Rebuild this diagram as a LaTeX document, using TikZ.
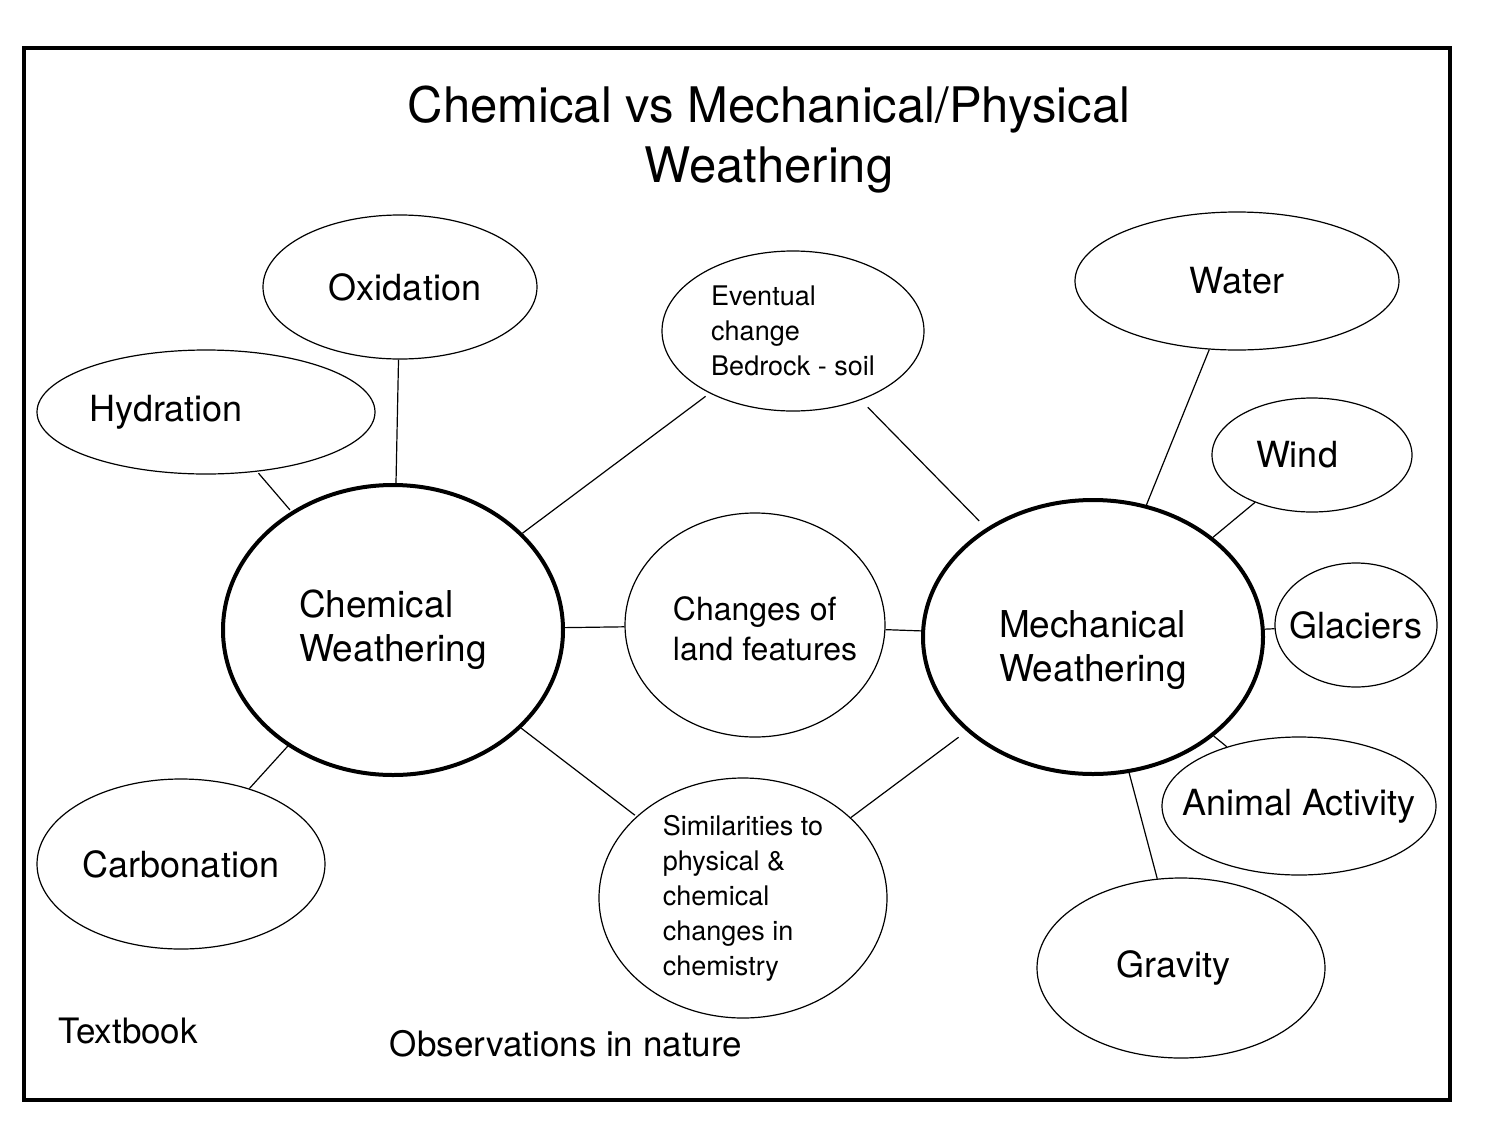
\documentclass[tikz,border=0pt]{standalone}
\usepackage{fontspec}
\setmainfont{TeX Gyre Heros}
\usetikzlibrary{shapes.geometric}
\tikzset{
  bubble/.style={draw, ellipse, inner sep=0pt, line width=1.2pt, align=left, font=\fontsize{36}{42}\selectfont},
  small/.style={font=\fontsize{27}{35}\selectfont},
  main/.style={bubble, line width=4pt, font=\fontsize{37}{44}\selectfont},
  link/.style={line width=1.2pt},
  note/.style={font=\fontsize{35}{40}\selectfont},
  sz/.style 2 args={minimum width=#1pt, minimum height=#2pt}
}
\newcommand{\lowtext}[2]{\raisebox{-#1pt}[0pt][0pt]{\makebox[0pt]{\begin{tabular}{@{}l@{}}#2\end{tabular}}}}
\begin{document}
\begin{tikzpicture}[x=1pt,y=-1pt]
  \useasboundingbox (0,0) rectangle (1500,1125);
  \draw[line width=4pt] (24,48) rectangle (1450,1100);
  \node[font=\fontsize{49}{60}\selectfont, align=center] (title) at (769,140)
    {Chemical vs Mechanical/Physical\\Weathering};

  % chemical side
  \node[main, sz={340}{290}] (chem) at (393,630) {Chemical\\Weathering};
  \node[bubble, sz={274}{144}] (oxid) at (400,287) {\hspace*{10pt}Oxidation};
  \node[bubble, sz={338}{124}] (hydr) at (206,412) {\hspace*{-80pt}Hydration};
  \node[bubble, sz={288}{170}] (carb) at (181,864) {Carbonation};

  % middle
  \node[bubble, small, sz={262}{160}] (event) at (793,331) {Eventual\\change\\Bedrock - soil};
  \node[bubble, sz={260}{224}, font=\fontsize{32}{40}\selectfont] (land) at (755,625)
    {\hspace*{20pt}\lowtext{14}{Changes of\\land features}};
  \node[bubble, small, sz={288}{240}] (simil) at (743,898) {Similarities to\\physical \&\\chemical\\changes in\\chemistry};

  % mechanical side
  \node[main, sz={340}{274}] (mech) at (1093,637) {\lowtext{20}{Mechanical\\Weathering}};
  \node[bubble, sz={324}{138}] (water) at (1237,281) {Water};
  \node[bubble, sz={200}{114}] (wind) at (1312,455) {\hspace*{-30pt}Wind};
  \node[bubble, sz={162}{124}] (glac) at (1356,625) {\makebox[0pt]{Glaciers}};
  \node[bubble, sz={274}{138}] (anim) at (1299,806) {\makebox[0pt]{Animal Activity}};
  \node[bubble, sz={288}{180}] (grav) at (1181,968) {\hspace*{-15pt}Gravity};

  \node[note] (book) at (128,1031) {Textbook};
  \node[note] (obs) at (566,1044) {Observations in nature};

  \draw[link, shorten <=2pt, shorten >=2pt] (hydr) -- (chem);
  \draw[link] (oxid) -- (chem);
  \draw[link, shorten >=-2pt] (carb) -- (chem);
  \draw[link, shorten >=5pt] (chem) -- (event);
  \draw[link, shorten <=10pt, shorten >=10pt] (event) -- (mech);
  \draw[link] (chem) -- (land);
  \draw[link] (land) -- (mech);
  \draw[link, shorten <=-2pt, shorten >=2pt] (chem) -- (simil);
  \draw[link, shorten <=10pt] (mech) -- (simil);
  \draw[link] (mech) -- (water);
  \draw[link] (mech) -- (wind);
  \draw[link] (mech) -- (glac);
  \draw[link] (mech) -- (anim);
  \draw[link] (mech) -- (grav);
\end{tikzpicture}
\end{document}
